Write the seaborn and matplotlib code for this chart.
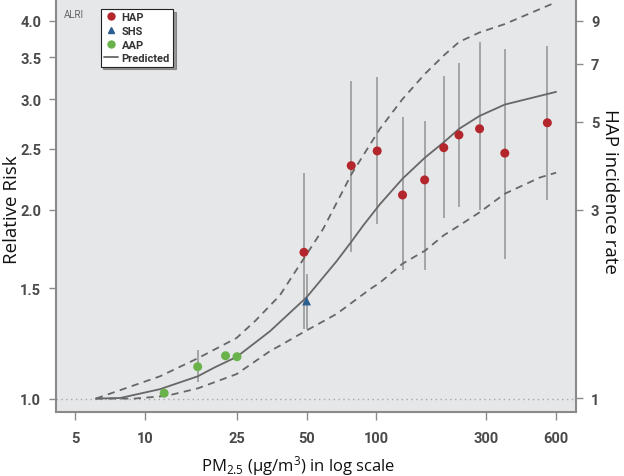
import matplotlib
matplotlib.use("Agg")
import matplotlib.pyplot as plt
from matplotlib.lines import Line2D
from matplotlib.ticker import FixedLocator, FixedFormatter, NullLocator
import seaborn as sns
import pandas as pd
import numpy as np

# ---------------- data ----------------
hap_x = [48.7, 78, 101, 130, 162, 196, 228, 280, 360, 550]
hap_rr = [1.71, 2.35, 2.48, 2.11, 2.23, 2.51, 2.63, 2.69, 2.46, 2.75]
hap_lo = [1.29, 1.71, 1.90, 1.60, 1.60, 1.94, 2.02, 2.00, 1.67, 2.07]
hap_hi = [2.29, 3.21, 3.25, 2.81, 2.77, 3.26, 3.43, 3.70, 3.61, 3.65]

shs_x = [50.0]
shs_rr = [1.43]
shs_lo = [1.29]
shs_hi = [1.58]

aap_x = [12.1, 16.9, 22.3, 25.0]
aap_rr = [1.02, 1.124, 1.17, 1.166]
aap_lo = [np.nan, 1.061, np.nan, np.nan]
aap_hi = [np.nan, 1.195, np.nan, np.nan]

pred_x = [6.13, 7.8, 11.6, 16.9, 20.0, 24.9, 34.7, 50, 67.4, 78.3, 87.9, 103.8, 130, 162.5, 196, 228.5, 280, 360, 600]
pred_rr = [1.0, 1.002, 1.035, 1.085, 1.121, 1.165, 1.28, 1.45, 1.655, 1.78, 1.887, 2.04, 2.24, 2.42, 2.56, 2.69, 2.82, 2.94, 3.08]

upper_x = [6.13, 11.6, 16.9, 24.9, 30.0, 38.3, 48.3, 59.0, 78.3, 103.8, 130, 162.5, 196, 228.5, 280, 360, 600]
upper_rr = [1.0, 1.085, 1.159, 1.249, 1.33, 1.46, 1.665, 1.864, 2.28, 2.69, 3.0, 3.29, 3.52, 3.70, 3.83, 3.95, 4.28]

lower_x = [6.13, 9.0, 12.4, 16.9, 24.9, 34.7, 38.3, 48.3, 67.4, 94.1, 103.8, 130, 162.5, 196, 228.5, 280, 360, 511, 600]
lower_rr = [1.0, 1.0, 1.01, 1.038, 1.094, 1.19, 1.214, 1.275, 1.364, 1.494, 1.53, 1.64, 1.72, 1.82, 1.886, 1.98, 2.12, 2.25, 2.29]

x_ticks = [5, 10, 25, 50, 100, 300, 600]
y_ticks = [1.0, 1.5, 2.0, 2.5, 3.0, 3.5, 4.0]
y2_ticks = [1, 3, 5, 7, 9]

# ---------------- style ----------------
sns.set_theme(style="white")
plt.rcParams['font.family'] = ['DejaVu Sans']
plt.rcParams['mathtext.default'] = 'regular'

TICKFONT = ['Liberation Sans Narrow', 'Roboto', 'DejaVu Sans']
LABELFONT = ['Open Sans', 'DejaVu Sans']
BG = '#e6e7e9'
SPINE = '#8a8a8a'
TXT = '#4a4a4a'
RED = '#b3262c'
BLUE = '#2b5d8f'
GREEN = '#6ab24a'
LINEC = '#676767'
ERRC = '#a0a0a0'

fig = plt.figure(figsize=(6.24, 4.77), dpi=100)
ax = fig.add_axes([0.0905, 0.1348, 0.8320, 0.8652])
ax.set_facecolor(BG)

ax.set_xscale('log')
ax.set_yscale('log')
ax.set_xlim(4.14, 729)
ax.set_ylim(0.953, 4.33)

# reference line at RR = 1
ax.axhline(1.0, color='#a8a8a8', lw=1.0, ls=(0, (1, 2.5)), zorder=1)

# error bars
ax.vlines(hap_x, hap_lo, hap_hi, color=ERRC, lw=1.3, zorder=2)
ax.vlines(shs_x, shs_lo, shs_hi, color=ERRC, lw=1.3, zorder=2)
ax.vlines(aap_x, aap_lo, aap_hi, color=ERRC, lw=1.3, zorder=2)

# curves
pdf = pd.DataFrame({'x': pred_x, 'rr': pred_rr})
udf = pd.DataFrame({'x': upper_x, 'rr': upper_rr})
ldf = pd.DataFrame({'x': lower_x, 'rr': lower_rr})
sns.lineplot(data=pdf, x='x', y='rr', ax=ax, color=LINEC, lw=1.3, zorder=3, legend=False)
sns.lineplot(data=udf, x='x', y='rr', ax=ax, color=LINEC, lw=1.3, zorder=3, legend=False,
             linestyle=(0, (4, 3)))
sns.lineplot(data=ldf, x='x', y='rr', ax=ax, color=LINEC, lw=1.3, zorder=3, legend=False,
             linestyle=(0, (4, 3)))

# points
sns.scatterplot(x=hap_x, y=hap_rr, ax=ax, color=RED, s=42, marker='o', edgecolor='none', zorder=4)
sns.scatterplot(x=shs_x, y=shs_rr, ax=ax, color=BLUE, s=40, marker='^', edgecolor='none', zorder=4)
sns.scatterplot(x=aap_x, y=aap_rr, ax=ax, color=GREEN, s=42, marker='o', edgecolor='none', zorder=4)

# ticks
ax.xaxis.set_major_locator(FixedLocator(x_ticks))
ax.xaxis.set_major_formatter(FixedFormatter([str(v) for v in x_ticks]))
ax.xaxis.set_minor_locator(NullLocator())
ax.yaxis.set_major_locator(FixedLocator(y_ticks))
ax.yaxis.set_major_formatter(FixedFormatter([f"{v:.1f}" for v in y_ticks]))
ax.yaxis.set_minor_locator(NullLocator())
ax.tick_params(axis='x', which='major', direction='out', length=6, width=1,
               color=SPINE, labelcolor=TXT, labelsize=10.5, pad=8, bottom=True)
ax.tick_params(axis='y', which='major', direction='out', length=5, width=1,
               color=SPINE, labelcolor=TXT, labelsize=10.5, pad=6, left=True)
for lab in ax.get_xticklabels() + ax.get_yticklabels():
    lab.set_family(TICKFONT)
    lab.set_fontweight('bold')

for s in ['left', 'bottom', 'right']:
    ax.spines[s].set_color(SPINE)
    ax.spines[s].set_linewidth(1.5)
ax.spines['top'].set_visible(False)

ax.set_xlabel('PM$_{2.5}$ (µg/m$^{3}$) in log scale', family=LABELFONT, fontsize=12,
              color='#111111')
ax.xaxis.set_label_coords(0.465, -0.100)
ax.set_ylabel('Relative Risk', family=LABELFONT, fontsize=13.5, color='#111111')
ax.yaxis.set_label_coords(-0.068, 0.4925)

# secondary axis
ax2 = ax.twinx()
ax2.set_yscale('log')
ax2.set_ylim(0.926, 10.2)
ax2.yaxis.set_major_locator(FixedLocator(y2_ticks))
ax2.yaxis.set_major_formatter(FixedFormatter([str(v) for v in y2_ticks]))
ax2.yaxis.set_minor_locator(NullLocator())
ax2.tick_params(axis='y', which='major', direction='out', length=5, width=1,
                color=SPINE, labelcolor=TXT, labelsize=10.5, pad=6, right=True)
for lab in ax2.get_yticklabels():
    lab.set_family(TICKFONT)
    lab.set_fontweight('bold')
for s in ax2.spines.values():
    s.set_visible(False)
ax2.set_ylabel('HAP incidence rate', family=LABELFONT, fontsize=13.5, color='#111111',
               rotation=-90, va='center')
ax2.yaxis.set_label_coords(1.066, 0.535)

# ALRI text
ax.text(0.0145, 0.963, 'ALRI', transform=ax.transAxes, fontsize=7, color='#666666',
        family=TICKFONT, va='center', ha='left')

# legend
handles = [
    Line2D([], [], marker='o', ls='none', color=RED, markersize=5),
    Line2D([], [], marker='^', ls='none', color=BLUE, markersize=4),
    Line2D([], [], marker='o', ls='none', color=GREEN, markersize=5),
    Line2D([], [], color=LINEC, lw=1.3),
]
leg = ax.legend(handles, ['HAP', 'SHS', 'AAP', 'Predicted'], loc='upper left',
                bbox_to_anchor=(0.085, 0.976), frameon=True, fancybox=False, shadow=True,
                prop={'family': TICKFONT, 'weight': 'bold', 'size': 8},
                handlelength=1.3, handletextpad=0.3, labelspacing=0.33,
                borderpad=0.3, borderaxespad=0.0)
leg.get_frame().set_edgecolor('#222222')
leg.get_frame().set_linewidth(0.8)
leg.get_frame().set_facecolor('white')
for t in leg.get_texts():
    t.set_color('#333333')

fig.savefig('out.png', dpi=100, facecolor='white')
